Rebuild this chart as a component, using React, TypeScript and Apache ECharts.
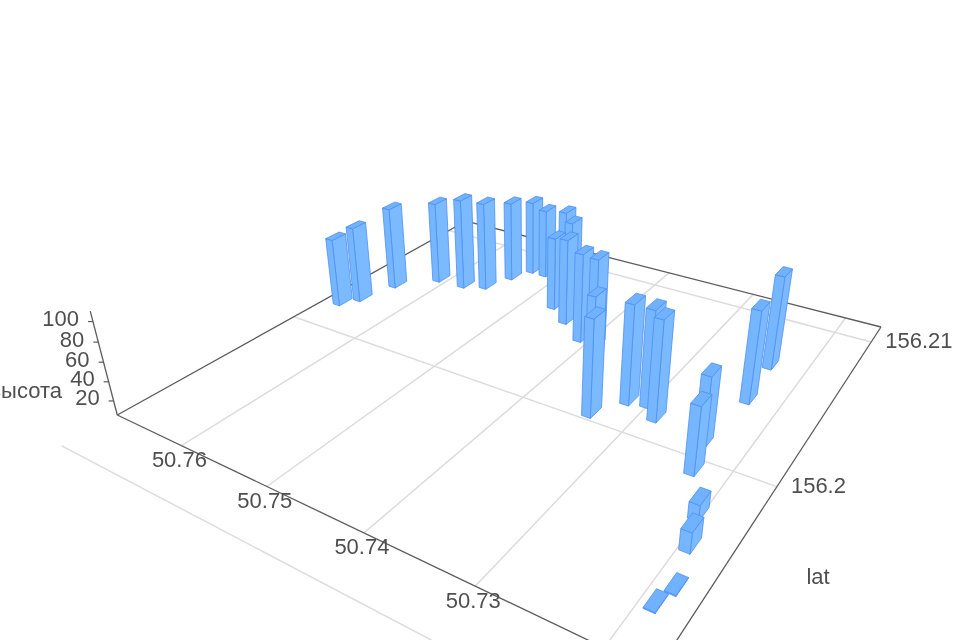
import React, { useEffect, useRef } from "react";
import * as echarts from "echarts";

// Values
const barLng = [50.7665, 50.7653, 50.7642, 50.761, 50.7578, 50.7556, 50.7545, 50.7534, 50.7517, 50.749, 50.747, 50.7468, 50.7441, 50.741, 50.7392, 50.7382, 50.7337, 50.7318, 50.7301, 50.7286, 50.7228, 50.7236, 50.7229, 50.7233, 50.7194, 50.7203, 50.719, 50.7185];
const barLat = [156.202, 156.2027, 156.2044, 156.2058, 156.2059, 156.2063, 156.2076, 156.2086, 156.2086, 156.2085, 156.2077, 156.2063, 156.2055, 156.2046, 156.2045, 156.2037, 156.2005, 156.2018, 156.202, 156.2014, 156.1995, 156.2009, 156.204, 156.2065, 156.1964, 156.1977, 156.194, 156.1948];
const barHeight = [82, 91, 99, 99, 109, 106, 97, 91, 85, 90, 90, 87, 100, 102, 102, 75, 105, 108, 105, 108, 73, 77, 101, 104, 25, 21, 6, 6];

const lngTicks = [50.76, 50.75, 50.74, 50.73, 50.72];
const lngLabels = ["50.76", "50.75", "50.74", "50.73"];
const latTicks = [156.19, 156.2, 156.21];
const latLabels = ["156.2", "156.21"];
const zTicks = [20, 40, 60, 80, 100];

const LNG_EXTENT = [50.7164, 50.76839];
const LAT_EXTENT = [156.19201, 156.21135];
const Z_EXTENT = [5, 110];
const BAR_DLNG = 0.00044;
const BAR_DLAT = 0.000375;

const FONT = '22px "Liberation Sans", Arial, sans-serif';
const TEXT = "#4f4f4f";
const GRID = "#dcdcdc";
const AXIS = "#5c5c5c";
const FACE = "#7bbaff";
const FACE2 = "#76b6ff";
const TOP = "#70b2ff";
const EDGE = "#4c8ff5";

// Camera: maps the floor (0..1 in each direction) and height to the screen
const W = 960;
const H = 640;
const cam = { a: 343.3, b: 562.6, c: 117.3, d: 57.3, e: -92.5, f: 415, g: -0.29764, h: 0.4591, k: -0.000586, vx: 530, vy: 2000 };

function project(s: number, t: number, z: number): [number, number] {
  const dz = z - Z_EXTENT[0];
  const c = cam;
  const w = c.g * s + c.h * t + 1 + dz * c.k;
  const x = c.a * s + c.b * t + c.c + dz * c.k * c.vx;
  const y = c.d * s + c.e * t + c.f + dz * c.k * c.vy;
  return [x / w, y / w];
}
// hidden cartesian axes give each value's place on the floor
function viaAxes(api: any, lng: number, lat: number, z: number): [number, number] {
  const p = api.coord([lng, lat]);
  return project(1 - p[0] / W, 1 - p[1] / H, z);
}
function depth(lng: number, lat: number) {
  const s = (LNG_EXTENT[1] - lng) / (LNG_EXTENT[1] - LNG_EXTENT[0]);
  const t = (lat - LAT_EXTENT[0]) / (LAT_EXTENT[1] - LAT_EXTENT[0]);
  return cam.g * s + cam.h * t + 1;
}

const barData = barLng
  .map((lng, i) => [lng, barLat[i], barHeight[i]])
  .sort((p, q) => depth(q[0], q[1]) - depth(p[0], p[1]));

function line(a: number[], b: number[], stroke: string, lineWidth: number) {
  return { type: "line", shape: { x1: a[0], y1: a[1], x2: b[0], y2: b[1] }, style: { stroke, lineWidth } };
}
function label(x: number, y: number, text: string, align: string) {
  return { type: "text", x, y, style: { text, font: FONT, fill: TEXT, align, verticalAlign: "middle" } };
}

const renderLngGrid = (_: any, api: any) =>
  line(viaAxes(api, api.value(0), LAT_EXTENT[0], Z_EXTENT[0]), viaAxes(api, api.value(0), LAT_EXTENT[1], Z_EXTENT[0]), GRID, 1.5);
const renderLatGrid = (_: any, api: any) =>
  line(viaAxes(api, LNG_EXTENT[0], api.value(1), Z_EXTENT[0]), viaAxes(api, LNG_EXTENT[1], api.value(1), Z_EXTENT[0]), GRID, 1.5);

const frame = [
  [LNG_EXTENT[1], LAT_EXTENT[0]],
  [LNG_EXTENT[1], LAT_EXTENT[1]],
  [LNG_EXTENT[0], LAT_EXTENT[1]],
  [LNG_EXTENT[0], LAT_EXTENT[0]],
  [LNG_EXTENT[1], LAT_EXTENT[0]],
];
const renderFrame = (params: any, api: any) => {
  const i = params.dataIndex;
  if (i >= frame.length - 1) return null;
  return line(viaAxes(api, frame[i][0], frame[i][1], Z_EXTENT[0]), viaAxes(api, frame[i + 1][0], frame[i + 1][1], Z_EXTENT[0]), AXIS, 1.3);
};
const renderZAxis = (_: any, api: any) => {
  const z = api.value(2);
  const p = viaAxes(api, LNG_EXTENT[1], LAT_EXTENT[0], z);
  return {
    type: "group",
    children: [line(p, [p[0] - 5, p[1]], AXIS, 1.2), label(p[0] - 14, p[1] - 3, String(z), "right")],
  };
};
const renderZLine = (_: any, api: any) =>
  line(viaAxes(api, LNG_EXTENT[1], LAT_EXTENT[0], Z_EXTENT[0]), viaAxes(api, LNG_EXTENT[1], LAT_EXTENT[0], Z_EXTENT[1]), AXIS, 1.3);
const renderLngLabel = (params: any, api: any) => {
  const p = viaAxes(api, api.value(0), LAT_EXTENT[0], Z_EXTENT[0]);
  return label(p[0] - 2, p[1] + 14, lngLabels[params.dataIndex], "center");
};
const renderLatLabel = (params: any, api: any) => {
  const p = viaAxes(api, LNG_EXTENT[0], api.value(1), Z_EXTENT[0]);
  return label(p[0] + 14, p[1] - 1.5, latLabels[params.dataIndex], "left");
};

const renderBar = (_: any, api: any) => {
  const lng = api.value(0);
  const lat = api.value(1);
  const z = Math.max(api.value(2), Z_EXTENT[0]);
  const b = Z_EXTENT[0];
  const l0 = lng + BAR_DLNG, l1 = lng - BAR_DLNG;
  const a0 = lat - BAR_DLAT, a1 = lat + BAR_DLAT;
  const n0b = viaAxes(api, l1, a0, b), n1b = viaAxes(api, l1, a1, b), n2b = viaAxes(api, l0, a0, b);
  const n0 = viaAxes(api, l1, a0, z), n1 = viaAxes(api, l1, a1, z), n2 = viaAxes(api, l0, a0, z), n3 = viaAxes(api, l0, a1, z);
  const face = (points: number[][], fill: string) => ({
    type: "polygon",
    shape: { points },
    style: { fill, stroke: EDGE, lineWidth: 0.8, lineJoin: "round" },
  });
  return {
    type: "group",
    children: [face([n0b, n1b, n1, n0], FACE), face([n0b, n2b, n2, n0], FACE2), face([n0, n1, n3, n2], TOP)],
  };
};

function base(name: string, data: any[], renderItem: any) {
  return { type: "custom", name, data, renderItem, silent: true, animation: false, clip: false, coordinateSystem: "cartesian2d" };
}

const option: any = {
  animation: false,
  backgroundColor: "#ffffff",
  grid: { left: 0, top: 0, width: W, height: H },
  xAxis: { type: "value", min: LNG_EXTENT[0], max: LNG_EXTENT[1], show: false },
  yAxis: { type: "value", min: LAT_EXTENT[0], max: LAT_EXTENT[1], show: false, scale: true },
  series: [
    base("lng-grid", lngTicks.map((v) => [v, 156.2]), renderLngGrid),
    base("lat-grid", latTicks.map((v) => [50.74, v]), renderLatGrid),
    base("frame", frame, renderFrame),
    base("z-line", [[50.74, 156.2, 5]], renderZLine),
    base("z-axis", zTicks.map((v) => [50.74, 156.2, v]), renderZAxis),
    base("lng-labels", lngLabels.map((v) => [Number(v), 156.2]), renderLngLabel),
    base("lat-labels", latLabels.map((v) => [50.74, Number(v)]), renderLatLabel),
    base("высота", barData, renderBar),
  ],
  graphic: [
    { type: "text", x: 62, y: 390, style: { text: "высота", font: FONT, fill: TEXT, align: "right", verticalAlign: "middle" } },
    { type: "text", x: 818, y: 576, style: { text: "lat", font: FONT, fill: TEXT, align: "center", verticalAlign: "middle" } },
  ],
};

export default function App() {
  const ref = useRef<HTMLDivElement>(null);
  useEffect(() => {
    document.body.style.margin = "0";
    const chart = echarts.init(ref.current!, undefined, { renderer: "svg" });
    chart.setOption(option);
    return () => chart.dispose();
  }, []);
  return <div ref={ref} style={{ width: W, height: H, filter: "blur(0.5px)" }} />;
}
